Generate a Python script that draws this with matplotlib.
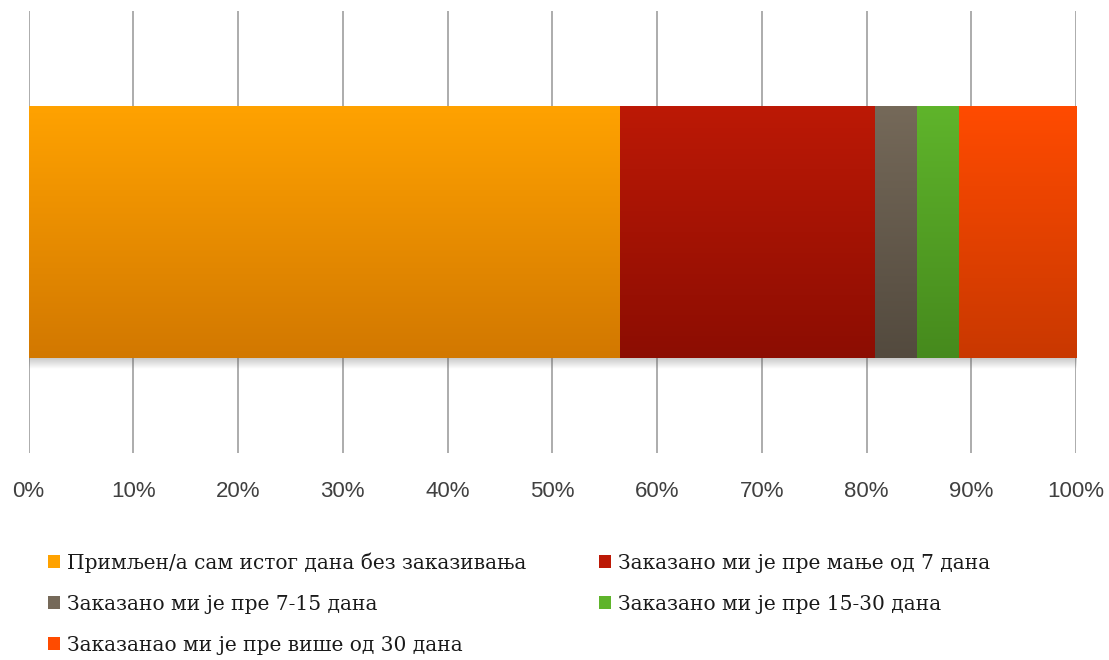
import numpy as np
import matplotlib
matplotlib.use('Agg')
import matplotlib.pyplot as plt
from matplotlib.colors import to_rgb
from matplotlib.patches import Patch

categories = [
    'Примљен/а сам истог дана без заказивања',
    'Заказано ми је пре мање од 7 дана',
    'Заказано ми је пре 7-15 дана',
    'Заказано ми је пре 15-30 дана',
    'Заказанао ми је пре више од 30 дана',
]
values = [56.5, 24.3, 4.0, 4.0, 11.2]
top_colors = ['#FFA200', '#BC1906', '#756959', '#5FB42B', '#FF4B00']
bottom_colors = ['#D27800', '#8C0D02', '#534A3E', '#468A1D', '#C93800']
tick_values = list(range(0, 101, 10))
tick_labels = [f'{t}%' for t in tick_values]

W, H = 1109, 660
fig = plt.figure(figsize=(W / 100, H / 100), dpi=100)
ax = fig.add_axes([28.5 / W, 1 - 453 / H, (1076 - 28.5) / W, (453 - 11) / H])

bar_h = 0.57
left = 0
handles = []
for cat, v, ct, cb in zip(categories, values, top_colors, bottom_colors):
    bars = ax.barh(0, v, left=left, height=bar_h, color=cb, linewidth=0, zorder=3)
    patch = bars[0]
    # vertical gradient top -> bottom
    t = np.linspace(0, 1, 128)[:, None]
    grad = (1 - t) * np.array(to_rgb(ct)) + t * np.array(to_rgb(cb))
    grad = np.repeat(grad[:, None, :], 2, axis=1)
    im = ax.imshow(grad, extent=[left, left + v, -bar_h / 2, bar_h / 2],
                   aspect='auto', origin='upper', zorder=3, interpolation='bilinear')
    im.set_clip_path(patch)
    handles.append(Patch(facecolor=ct, edgecolor='none', label=cat))
    left += v

# soft shadow under the bar
sh = np.zeros((32, 2, 4))
sh[..., :3] = 0.35
sh[..., 3] = np.linspace(0.35, 0.0, 32)[:, None]
ax.imshow(sh, extent=[0, 100, -bar_h / 2 - 0.025, -bar_h / 2], aspect='auto',
          origin='upper', zorder=2, interpolation='bilinear')

ax.set_xlim(0, 100)
ax.set_ylim(-0.5, 0.5)
ax.set_xticks(tick_values)
ax.set_xticklabels(tick_labels, fontsize=16, color='#404040', family='Liberation Sans')
ax.set_yticks([])
ax.tick_params(axis='x', length=0, pad=20)
ax.grid(axis='x', color='#A6A6A6', linewidth=1.3, zorder=1)
ax.set_axisbelow(True)
for s in ax.spines.values():
    s.set_visible(False)

order = [0, 2, 4, 1, 3]
leg = fig.legend([handles[i] for i in order], [categories[i] for i in order],
                 ncol=2, loc='upper left', bbox_to_anchor=(30 / W, 1 - 534 / H),
                 frameon=False, handlelength=0.6, handleheight=0.6, handletextpad=0.35,
                 columnspacing=3.6, labelspacing=1.1,
                 prop={'family': 'DejaVu Serif', 'size': 14.5})
for txt in leg.get_texts():
    txt.set_color('#1a1a1a')

fig.savefig('out.png', dpi=100)
